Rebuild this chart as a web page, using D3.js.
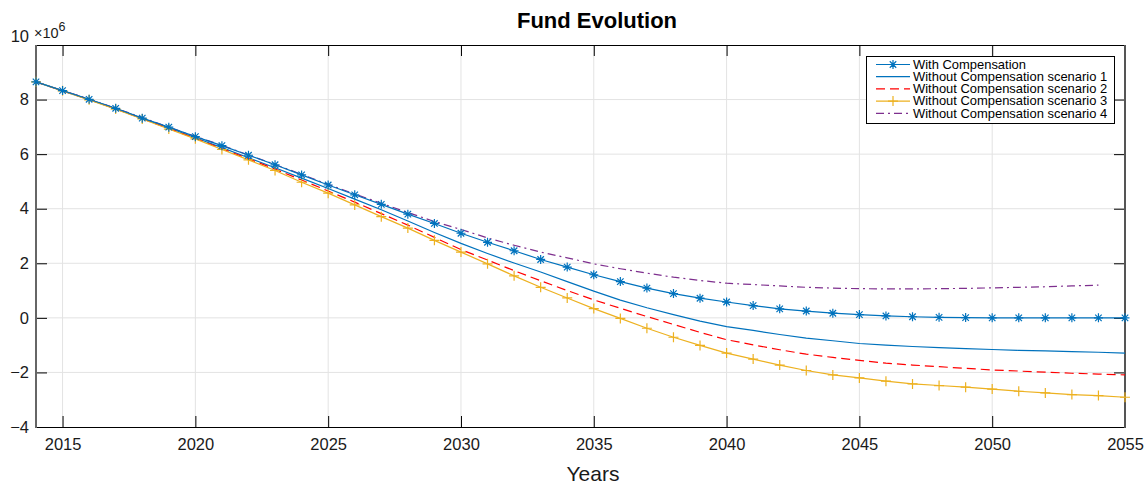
<!DOCTYPE html>
<html>
<head>
<meta charset="utf-8">
<script src="https://cdn.jsdelivr.net/npm/d3@7/dist/d3.min.js"></script>
<style>
  html, body { margin: 0; padding: 0; background: #fff; }
  svg { display: block; font-family: "Liberation Sans", Arial, Helvetica, sans-serif; }
</style>
</head>
<body>
<svg id="chart" width="1148" height="486"></svg>
<script>
// Fund balance (x10^6) per year
const years = d3.range(2014, 2056);           // 2014 .. 2055
const yearsS4 = d3.range(2014, 2055);         // scenario 4 stops at 2054

const withCompensation = [
  8.65, 8.33, 8.01, 7.68, 7.32, 6.99, 6.64, 6.31, 5.96, 5.61,
  5.24, 4.87, 4.51, 4.16, 3.80, 3.46, 3.10, 2.77, 2.46, 2.14,
  1.86, 1.58, 1.33, 1.09, 0.89, 0.72, 0.58, 0.45, 0.33, 0.25,
  0.17, 0.12, 0.07, 0.04, 0.02, 0.01, 0.00, 0.00, 0.00, 0.00,
  0.00, 0.00
];
const scenario1 = [
  8.65, 8.33, 8.00, 7.67, 7.31, 6.96, 6.60, 6.24, 5.87, 5.50,
  5.12, 4.74, 4.35, 3.96, 3.55, 3.13, 2.73, 2.36, 2.01, 1.68,
  1.33, 0.98, 0.65, 0.37, 0.12, -0.12, -0.32, -0.46, -0.61, -0.74,
  -0.84, -0.94, -1.00, -1.05, -1.09, -1.13, -1.16, -1.19, -1.21, -1.24,
  -1.26, -1.29
];
const scenario2 = [
  8.65, 8.32, 8.00, 7.66, 7.30, 6.94, 6.58, 6.20, 5.83, 5.45,
  5.05, 4.65, 4.24, 3.82, 3.40, 2.95, 2.50, 2.12, 1.73, 1.36,
  1.00, 0.66, 0.35, 0.05, -0.24, -0.53, -0.80, -0.99, -1.17, -1.33,
  -1.45, -1.56, -1.66, -1.73, -1.79, -1.85, -1.91, -1.95, -1.99, -2.03,
  -2.06, -2.09
];
const scenario3 = [
  8.65, 8.32, 7.99, 7.65, 7.29, 6.92, 6.56, 6.17, 5.79, 5.40,
  4.97, 4.57, 4.14, 3.71, 3.29, 2.84, 2.41, 1.98, 1.54, 1.12,
  0.73, 0.34, -0.02, -0.38, -0.71, -1.01, -1.29, -1.51, -1.73, -1.93,
  -2.09, -2.20, -2.32, -2.42, -2.48, -2.54, -2.61, -2.69, -2.75, -2.81,
  -2.85, -2.91
];
const scenario4 = [
  8.65, 8.33, 8.02, 7.68, 7.34, 6.99, 6.65, 6.32, 5.97, 5.62,
  5.26, 4.89, 4.54, 4.20, 3.86, 3.53, 3.24, 2.93, 2.66, 2.41,
  2.20, 1.98, 1.80, 1.64, 1.49, 1.37, 1.27, 1.22, 1.17, 1.12,
  1.09, 1.07, 1.06, 1.06, 1.07, 1.08, 1.10, 1.12, 1.14, 1.17,
  1.20
];

const xTicks = d3.range(2015, 2056, 5);
const yTicks = d3.range(-4, 11, 2);
const legendLabels = [
  "With Compensation",
  "Without Compensation scenario 1",
  "Without Compensation scenario 2",
  "Without Compensation scenario 3",
  "Without Compensation scenario 4"
];

const series = [
  { name: legendLabels[1], x: years, y: scenario1, color: "#0072BD", dash: null, marker: null },
  { name: legendLabels[2], x: years, y: scenario2, color: "#FF0000", dash: "9,5", marker: null },
  { name: legendLabels[4], x: yearsS4, y: scenario4, color: "#7E2F8E", dash: "8,4,2,4", marker: null },
  { name: legendLabels[3], x: years, y: scenario3, color: "#EDB120", dash: null, marker: "plus" },
  { name: legendLabels[0], x: years, y: withCompensation, color: "#0072BD", dash: null, marker: "star" }
];

const svg = d3.select("#chart");
const plotLeft = 36, plotRight = 1125, plotTop = 45, plotBottom = 427;

const x = d3.scaleLinear().domain([2014, 2055]).range([plotLeft, plotRight]);
const y = d3.scaleLinear().domain([-4, 10]).range([plotBottom, plotTop]);

// grid
const grid = svg.append("g").attr("stroke", "#e3e3e3").attr("stroke-width", 1);
grid.selectAll("line.vx").data(xTicks.filter(t => t > 2014 && t < 2055)).join("line")
  .attr("x1", d => x(d)).attr("x2", d => x(d)).attr("y1", plotTop).attr("y2", plotBottom);
grid.selectAll("line.hy").data(yTicks.filter(t => t > -4 && t < 10)).join("line")
  .attr("y1", d => y(d)).attr("y2", d => y(d)).attr("x1", plotLeft).attr("x2", plotRight);

// axes with inward ticks
const tickLen = 11;
const xb = svg.append("g").attr("transform", `translate(0,${plotBottom})`)
  .call(d3.axisBottom(x).tickValues(xTicks).tickSizeInner(-tickLen).tickSizeOuter(0).tickPadding(11).tickFormat(d3.format("d")));
const xt = svg.append("g").attr("transform", `translate(0,${plotTop})`)
  .call(d3.axisTop(x).tickValues(xTicks).tickSizeInner(-tickLen).tickSizeOuter(0).tickFormat(""));
const yl = svg.append("g").attr("transform", `translate(${plotLeft},0)`)
  .call(d3.axisLeft(y).tickValues(yTicks).tickSizeInner(-tickLen).tickSizeOuter(0).tickPadding(7).tickFormat(d3.format("d")));
const yr = svg.append("g").attr("transform", `translate(${plotRight},0)`)
  .call(d3.axisRight(y).tickValues(yTicks).tickSizeInner(-tickLen).tickSizeOuter(0).tickFormat(""));

[xb, xt, yl, yr].forEach(g => {
  g.selectAll(".tick line").attr("stroke", "#000").attr("stroke-width", 1);
  g.selectAll("text").attr("fill", "#1a1a1a").style("font-size", "16.5px");
  g.select(".domain").remove();
});
yl.selectAll(".tick text").attr("x", -7);
yl.selectAll(".tick text").filter(d => d === 10).attr("dy", "-0.22em");

// frame
svg.append("line").attr("x1", plotLeft).attr("x2", plotRight).attr("y1", plotTop + 0.5).attr("y2", plotTop + 0.5).attr("stroke", "#000");
svg.append("line").attr("x1", plotLeft).attr("x2", plotRight).attr("y1", plotBottom + 0.5).attr("y2", plotBottom + 0.5).attr("stroke", "#000");
svg.append("line").attr("x1", plotLeft).attr("x2", plotLeft).attr("y1", plotTop).attr("y2", plotBottom + 1).attr("stroke", "#666").attr("stroke-width", 2);
svg.append("line").attr("x1", plotRight).attr("x2", plotRight).attr("y1", plotTop).attr("y2", plotBottom + 1).attr("stroke", "#555").attr("stroke-width", 2);

// markers
function starPath(h) {
  const d = h * 0.72;
  return `M${-h},0H${h}M0,${-h}V${h}M${-d},${-d}L${d},${d}M${-d},${d}L${d},${-d}`;
}
function plusPath(h) {
  return `M${-h},0H${h}M0,${-h}V${h}`;
}

const line = d3.line().x(d => x(d[0])).y(d => y(d[1]));

const plot = svg.append("g");
series.forEach(s => {
  const pts = s.x.map((v, i) => [v, s.y[i]]);
  plot.append("path").datum(pts)
    .attr("d", line)
    .attr("fill", "none")
    .attr("stroke", s.color)
    .attr("stroke-width", 1.2)
    .attr("stroke-dasharray", s.dash);
  if (s.marker) {
    const p = s.marker === "star" ? starPath(4.5) : plusPath(5);
    plot.append("g").selectAll("path").data(pts).join("path")
      .attr("transform", d => `translate(${x(d[0])},${y(d[1])})`)
      .attr("d", p)
      .attr("fill", "none")
      .attr("stroke", s.color)
      .attr("stroke-width", 1.2);
  }
});

// exponent label
const expo = svg.append("text").attr("x", 34).attr("y", 38).attr("fill", "#1a1a1a").style("font-size", "14.5px");
expo.append("tspan").text("\u00d710");
expo.append("tspan").attr("dy", -7).style("font-size", "12.5px").text("6");

// title and axis label
svg.append("text").attr("x", 597).attr("y", 28).attr("text-anchor", "middle")
  .style("font-size", "22px").style("font-weight", "bold").attr("fill", "#000").text("Fund Evolution");
svg.append("text").attr("x", 593).attr("y", 481).attr("text-anchor", "middle")
  .style("font-size", "21px").attr("fill", "#1a1a1a").text("Years");

// legend
const legendOrder = [
  { label: legendLabels[0], color: "#0072BD", dash: null, marker: "star" },
  { label: legendLabels[1], color: "#0072BD", dash: null, marker: null },
  { label: legendLabels[2], color: "#FF0000", dash: "9,5", marker: null },
  { label: legendLabels[3], color: "#EDB120", dash: null, marker: "plus" },
  { label: legendLabels[4], color: "#7E2F8E", dash: "8,4,2,4", marker: null }
];
const lg = svg.append("g");
lg.append("rect").attr("x", 866.5).attr("y", 56.5).attr("width", 248).attr("height", 67)
  .attr("fill", "#fff").attr("stroke", "#000").attr("stroke-width", 1);
legendOrder.forEach((e, i) => {
  const cy = 64.5 + i * 12.2;
  lg.append("line").attr("x1", 876).attr("x2", 910).attr("y1", cy).attr("y2", cy)
    .attr("stroke", e.color).attr("stroke-width", 1.2).attr("stroke-dasharray", e.dash);
  if (e.marker) {
    lg.append("path").attr("transform", `translate(893,${cy})`)
      .attr("d", e.marker === "star" ? starPath(4.5) : plusPath(5))
      .attr("fill", "none").attr("stroke", e.color).attr("stroke-width", 1.2);
  }
  lg.append("text")
    .attr("transform", `translate(913,${cy + 4.3}) scale(1.08,1)`)
    .style("font-size", "12px").attr("fill", "#000").text(e.label);
});
</script>
</body>
</html>
